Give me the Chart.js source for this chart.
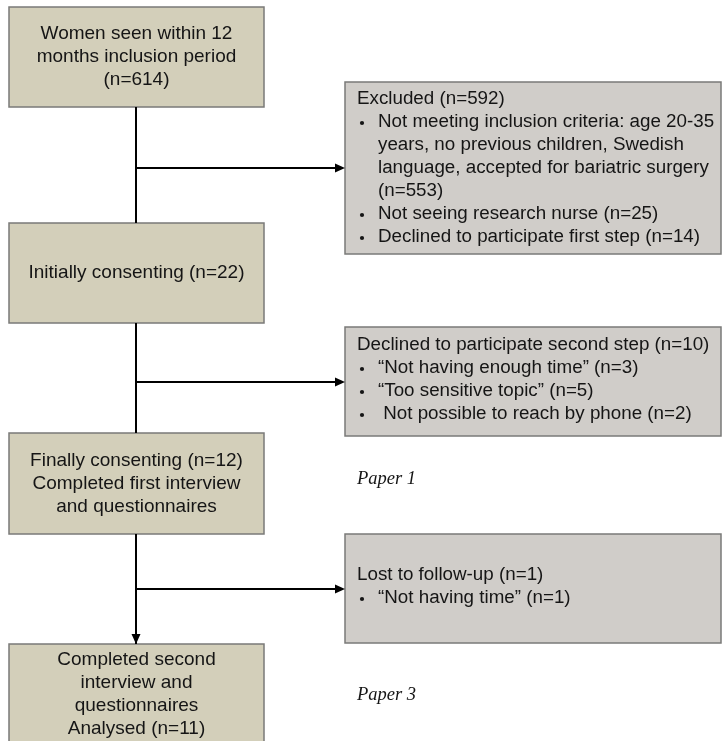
<!DOCTYPE html>
<html>
<head>
<meta charset="utf-8">
<script src="https://cdn.jsdelivr.net/npm/chart.js@4/dist/chart.umd.min.js"></script>
<style>
  html, body { margin: 0; padding: 0; background: #fff; }
  #wrap { width: 722px; height: 741px; position: relative; }
</style>
</head>
<body>
<div id="wrap"><canvas id="flow"></canvas></div>
<script>
// ---- content (text of the flow) ----
const mainSteps = [
  ['Women seen within 12', 'months inclusion period', '(n=614)'],
  ['Initially consenting (n=22)'],
  ['Finally consenting (n=12)', 'Completed first interview', 'and questionnaires'],
  ['Completed second', 'interview and', 'questionnaires', 'Analysed (n=11)']
];
const exitTitles = ['Excluded (n=592)', 'Declined to participate second step (n=10)', 'Lost to follow-up (n=1)'];
const exitBullets = [
  [['Not meeting inclusion criteria: age 20-35', 'years, no previous children, Swedish', 'language, accepted for bariatric surgery', '(n=553)'],
   ['Not seeing research nurse (n=25)'],
   ['Declined to participate first step (n=14)']],
  [['\u201CNot having enough time\u201D (n=3)'],
   ['\u201CToo sensitive topic\u201D (n=5)'],
   [' Not possible to reach by phone (n=2)']],
  [['\u201CNot having time\u201D (n=1)']]
];
const paperLabels = ['Paper 1', 'Paper 3'];

// ---- layout (in axis units, 1 unit = 1 px of the figure) ----
const mainX = [9, 264];
const mainY = [[7, 107], [223, 323], [433, 534], [644, 760]];
const mainTextY = [57, 273, 484, 695];
const exitX = [345, 721];
const exitY = [[82, 254], [327, 436], [534, 643]];
const exitTextY = [99, 345, 575];
const spineX = 136;
const branchY = [168, 382, 589];
const paperY = [479, 695];
const paperX = 357;

// connector lines as datasets
const lineSets = [];
for (let i = 0; i < 3; i++) {
  lineSets.push({ data: [{ x: spineX, y: mainY[i][1] }, { x: spineX, y: mainY[i + 1][0] }] });
  lineSets.push({ data: [{ x: spineX, y: branchY[i] }, { x: exitX[0] - 8, y: branchY[i] }] });
}

const flowPlugin = {
  id: 'flowBoxes',
  beforeDatasetsDraw(chart) {
    const { ctx, scales: { x, y } } = chart;
    const rect = (x0, x1, y0, y1, fill) => {
      const px = x.getPixelForValue(x0), py = y.getPixelForValue(y0);
      const w = x.getPixelForValue(x1) - px, h = y.getPixelForValue(y1) - py;
      ctx.fillStyle = fill;
      ctx.fillRect(px, py, w, h);
      ctx.strokeStyle = '#7a7a78';
      ctx.lineWidth = 1.5;
      ctx.strokeRect(px, py, w, h);
    };
    ctx.save();
    mainY.forEach(b => rect(mainX[0], mainX[1], b[0], b[1], '#d3cfba'));
    exitY.forEach(b => rect(exitX[0], exitX[1], b[0], b[1], '#d0cdc9'));
    ctx.restore();
  },
  afterDatasetsDraw(chart) {
    const { ctx, scales: { x, y } } = chart;
    ctx.save();
    // arrowheads
    ctx.fillStyle = '#000';
    const head = (tx, ty, dir) => {
      const px = x.getPixelForValue(tx), py = y.getPixelForValue(ty);
      ctx.beginPath();
      if (dir === 'right') { ctx.moveTo(px, py); ctx.lineTo(px - 10, py - 4.5); ctx.lineTo(px - 10, py + 4.5); }
      else { ctx.moveTo(px, py); ctx.lineTo(px - 4.5, py - 10); ctx.lineTo(px + 4.5, py - 10); }
      ctx.closePath();
      ctx.fill();
    };
    branchY.forEach(b => head(exitX[0], b, 'right'));
    head(spineX, mainY[3][0], 'down');

    // main box text
    ctx.fillStyle = '#151515';
    ctx.font = '19px "Liberation Sans", Arial, sans-serif';
    ctx.textBaseline = 'middle';
    ctx.textAlign = 'center';
    const lh = 22.8;
    const cx = x.getPixelForValue((mainX[0] + mainX[1]) / 2);
    mainSteps.forEach((lines, i) => {
      const c = mainTextY[i];
      const top = i === 3 ? 660 : c - (lines.length - 1) * lh / 2;
      lines.forEach((t, j) => ctx.fillText(t, cx, y.getPixelForValue(top + j * lh)));
    });

    // exit box text
    ctx.textAlign = 'left';
    ctx.font = '18.8px "Liberation Sans", Arial, sans-serif';
    const tx = x.getPixelForValue(exitX[0] + 12);
    const bx = x.getPixelForValue(exitX[0] + 17);
    const ix = x.getPixelForValue(exitX[0] + 33);
    exitTitles.forEach((title, i) => {
      let row = exitTextY[i];
      ctx.fillText(title, tx, y.getPixelForValue(row));
      exitBullets[i].forEach(item => {
        row += 23;
        ctx.beginPath();
        ctx.arc(bx, y.getPixelForValue(row) + 1, 2.1, 0, Math.PI * 2);
        ctx.fill();
        item.forEach((t, j) => ctx.fillText(t, ix, y.getPixelForValue(row + j * 23)));
        row += (item.length - 1) * 23;
      });
    });

    // paper labels
    ctx.font = 'italic 18.5px "Liberation Serif", "Times New Roman", serif';
    paperLabels.forEach((p, i) => ctx.fillText(p, x.getPixelForValue(paperX), y.getPixelForValue(paperY[i])));
    ctx.restore();
  }
};

new Chart(document.getElementById('flow'), {
  type: 'scatter',
  data: {
    datasets: lineSets.map(s => ({
      data: s.data, showLine: true, borderColor: '#000', borderWidth: 2,
      pointRadius: 0, fill: false
    }))
  },
  options: {
    responsive: true,
    maintainAspectRatio: false,
    animation: false,
    layout: { padding: 0 },
    plugins: { legend: { display: false }, tooltip: { enabled: false } },
    scales: {
      x: { type: 'linear', min: 0, max: 722, display: false },
      y: { type: 'linear', min: 0, max: 741, reverse: true, display: false }
    }
  },
  plugins: [flowPlugin]
});
</script>
</body>
</html>
